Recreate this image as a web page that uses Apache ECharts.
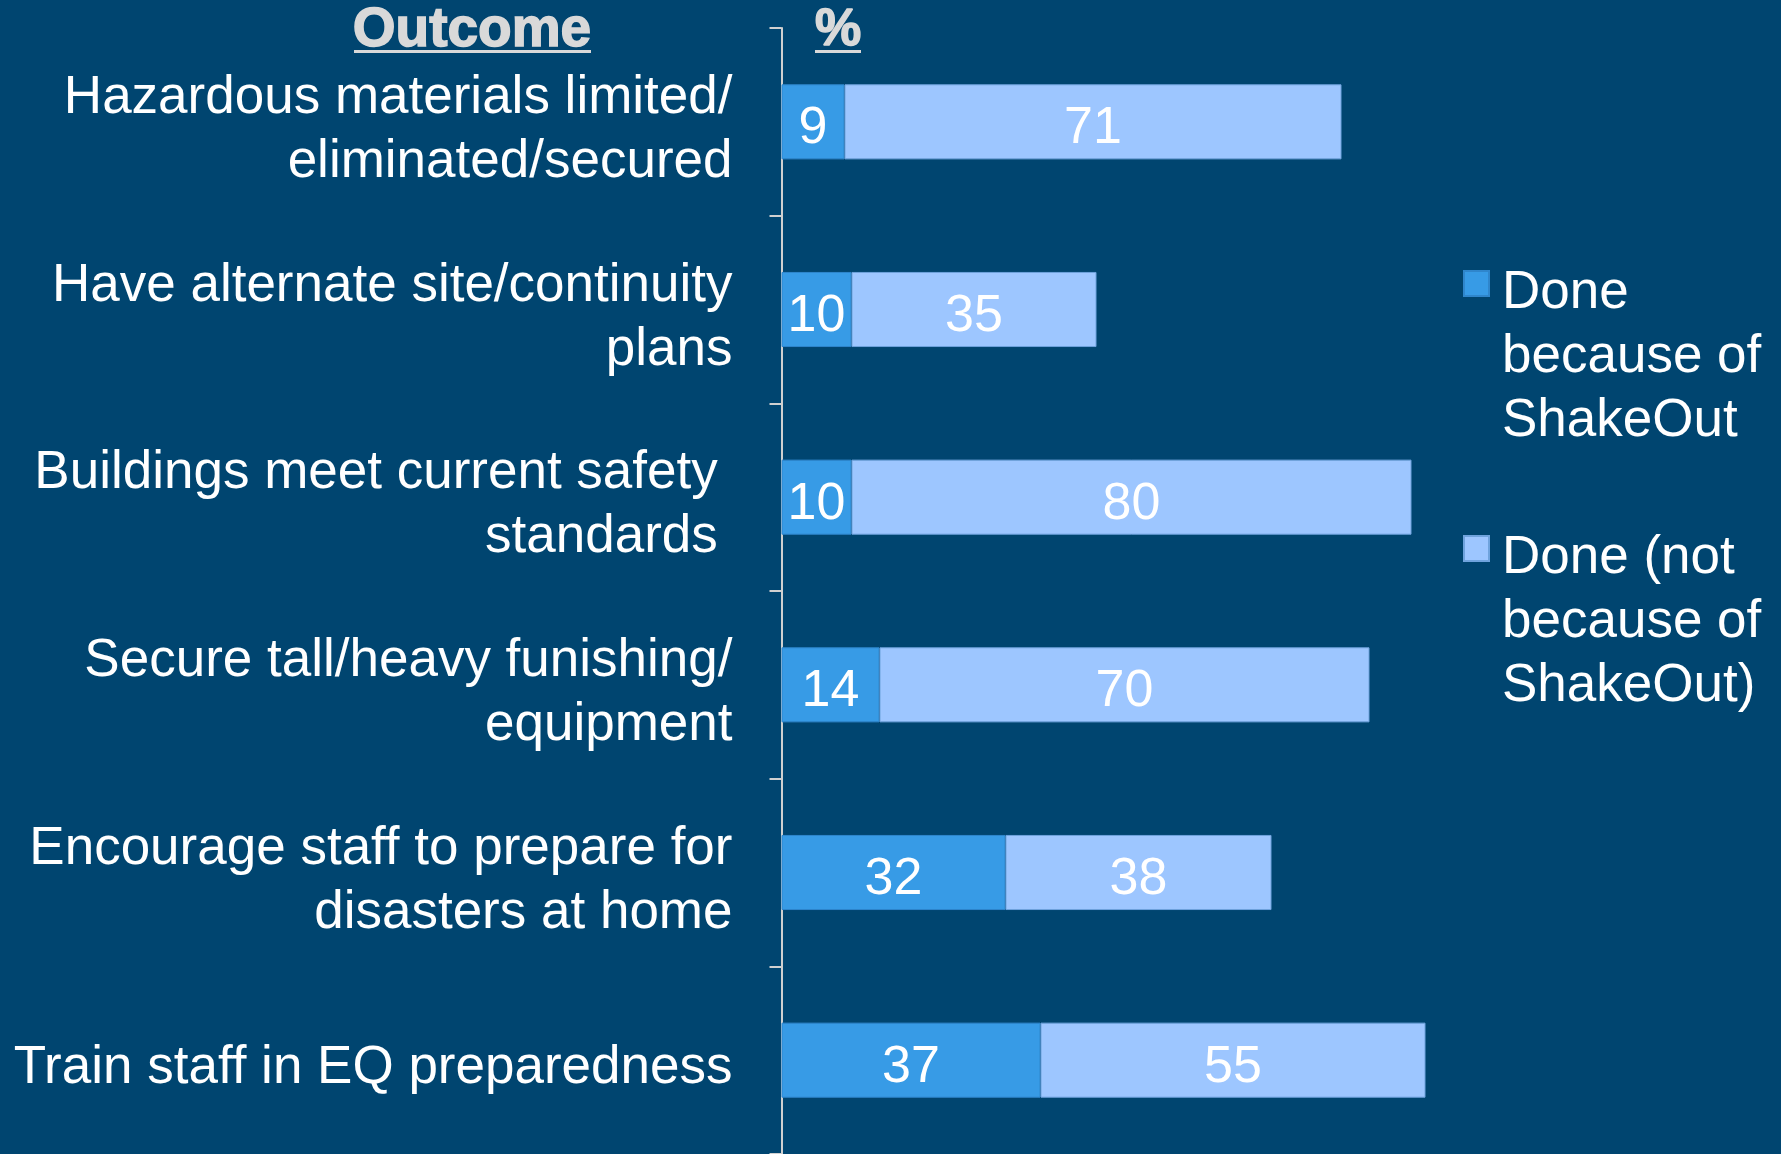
<!DOCTYPE html>
<html>
<head>
<meta charset="utf-8">
<style>
html,body{margin:0;padding:0;background:#004570;}
#c{width:1781px;height:1154px;}
</style>
<script src="https://cdn.jsdelivr.net/npm/echarts@6/dist/echarts.min.js"></script>
</head>
<body>
<div id="c"></div>
<script>
var categories = [
  "Hazardous materials limited/\neliminated/secured",
  "Have alternate site/continuity\nplans",
  "Buildings meet current safety \nstandards ",
  "Secure tall/heavy funishing/\nequipment",
  "Encourage staff to prepare for\ndisasters at home",
  "Train staff in EQ preparedness"
];
var seriesNames = ["Done because of ShakeOut", "Done (not because of ShakeOut)"];
var doneBecause = [9, 10, 10, 14, 32, 37];
var doneNotBecause = [71, 35, 80, 70, 38, 55];
var legendLines = {
  "Done because of ShakeOut": "Done\nbecause of\nShakeOut",
  "Done (not because of ShakeOut)": "Done (not\nbecause of\nShakeOut)"
};

var FONT = "'Liberation Sans', Arial, Helvetica, sans-serif";
var chart = echarts.init(document.getElementById('c'), null, {renderer: 'canvas'});
var labelStyle = {show: true, position: 'inside', color: '#ffffff', fontSize: 52, fontFamily: FONT,
  padding: [14, 0, 0, 0], rich: {x: {}}};

chart.setOption({
  backgroundColor: '#004570',
  animation: false,
  grid: {left: 781.5, top: 28, width: 700, height: 1126, containLabel: false},
  xAxis: {type: 'value', min: 0, max: 100, show: false},
  yAxis: {
    type: 'category', inverse: true, data: categories,
    axisLine: {show: true, lineStyle: {color: '#D0D0D0', width: 2}},
    axisTick: {show: true, length: 12, lineStyle: {color: '#D0D0D0', width: 2}},
    axisLabel: {color: '#ffffff', fontSize: 53, lineHeight: 64, fontFamily: FONT, margin: 49,
      align: 'right', interval: 0, padding: [17, 0, 0, 0], rich: {x: {}}},
    splitLine: {show: false}
  },
  legend: {
    orient: 'vertical', left: 1463, top: 260, padding: 0, itemGap: 71,
    icon: 'path://M0,10H25V35H0Z M0,0 M33,192',
    itemWidth: 33, itemHeight: 192,
    data: seriesNames,
    formatter: function (name) { return legendLines[name]; },
    textStyle: {color: '#ffffff', fontSize: 53, lineHeight: 64, fontFamily: FONT}
  },
  graphic: [
    {type: 'text', x: 472, y: 31, style: {text: 'Outcome', x: 0, y: 0, align: 'center', verticalAlign: 'middle', fill: '#D9D9D9', stroke: '#D9D9D9', lineWidth: 1.5, font: 'bold 55px ' + FONT}},
    {type: 'rect', shape: {x: 354, y: 50, width: 237, height: 3}, style: {fill: '#D9D9D9'}},
    {type: 'text', x: 838, y: 31, style: {text: '%', x: 0, y: 0, align: 'center', verticalAlign: 'middle', fill: '#D9D9D9', stroke: '#D9D9D9', lineWidth: 1.5, font: 'bold 52px ' + FONT}},
    {type: 'rect', shape: {x: 815, y: 50, width: 46, height: 3}, style: {fill: '#D9D9D9'}}
  ],
  series: [
    {
      name: seriesNames[0], type: 'bar', stack: 'total', barWidth: '40%',
      data: doneBecause,
      itemStyle: {color: '#379BE6', borderColor: '#2F86CC', borderWidth: 1},
      label: labelStyle
    },
    {
      name: seriesNames[1], type: 'bar', stack: 'total', barWidth: '40%',
      data: doneNotBecause,
      itemStyle: {color: '#9DC6FF', borderColor: '#6FA3DD', borderWidth: 1},
      label: labelStyle
    }
  ]
});
</script>
</body>
</html>
